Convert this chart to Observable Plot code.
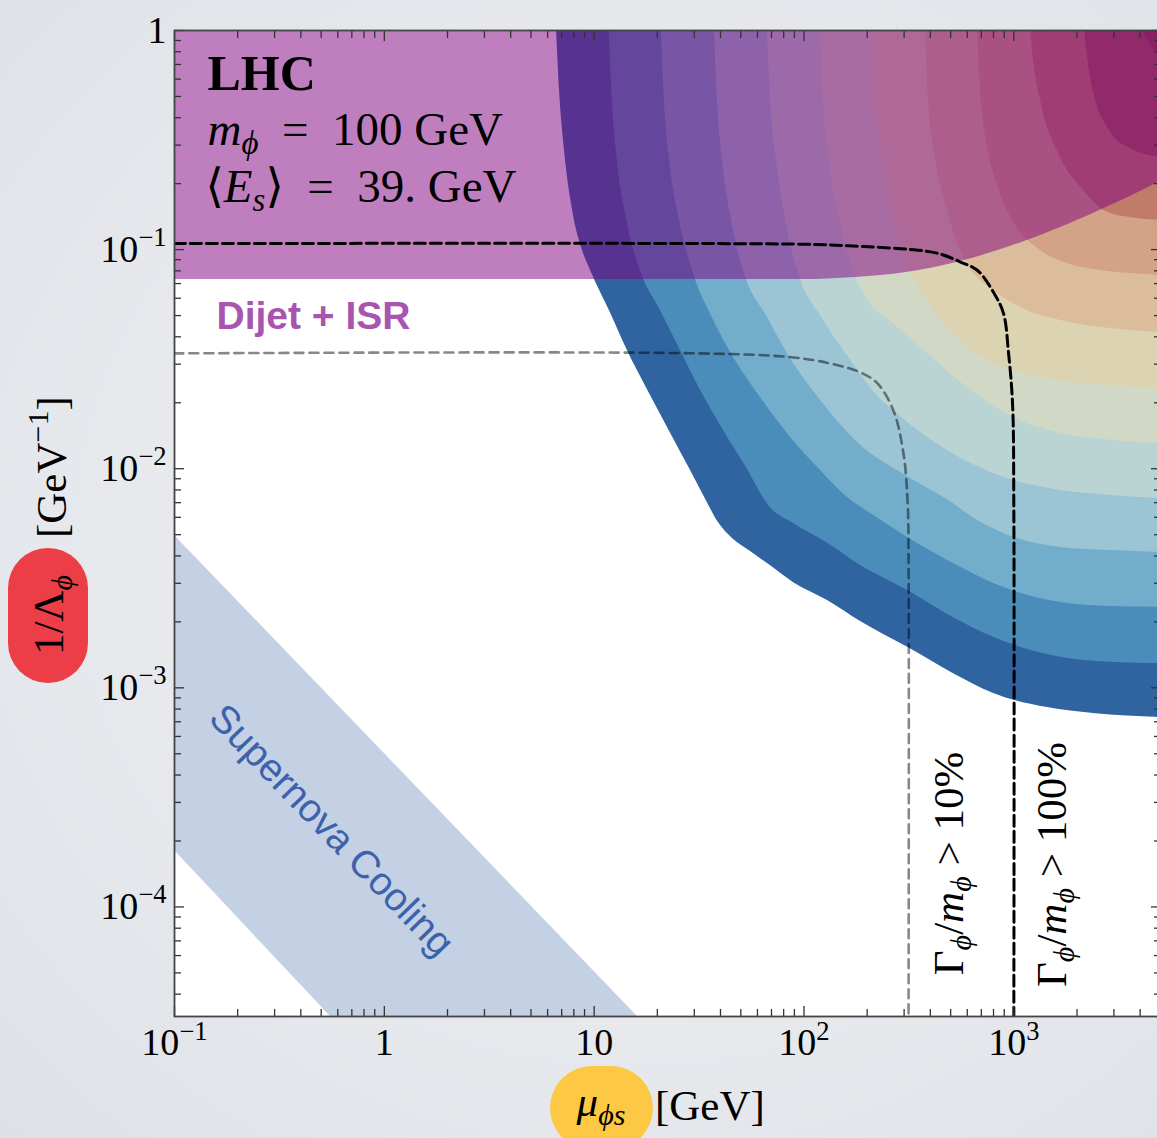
<!DOCTYPE html>
<html><head><meta charset="utf-8">
<script src="https://cdn.jsdelivr.net/npm/d3@7"></script>
<script src="https://cdn.jsdelivr.net/npm/@observablehq/plot@0.6"></script>
<style>
html,body{margin:0;padding:0;width:1157px;height:1138px;overflow:hidden;}
body{background: radial-gradient(ellipse 80% 75% at 55% 48%, #eff0f3 0%, #e7e9ed 55%, #dde1e6 100%);}
#chart{position:absolute;left:0;top:0;}
</style></head><body><div id="chart"></div>
<script>
// ---- axes ----
const xTicks = [0.1, 1, 10, 100, 1000];
const xTickLabels = ["10^{−1}", "1", "10", "10^{2}", "10^{3}"];
const yTicks = [1, 0.1, 0.01, 0.001, 0.0001];
const yTickLabels = ["1", "10^{−1}", "10^{−2}", "10^{−3}", "10^{−4}"];
const xDomain = [0.1, 5000];
const yDomain = [3.1623e-5, 1];

// ---- LHC reach contours (mu_phi_s [GeV], 1/Lambda_phi [GeV^-1]), outermost first ----
const contour0 = [[6.62,1],[6.84,0.532],[7.22,0.283],[7.89,0.151],[8.80,0.0991],[9.61,0.0803],[12.0,0.0511],[14.4,0.0346],[18.0,0.0228],[22.4,0.0154],[28.8,0.00981],[34.0,0.00724],[39.1,0.00568],[45.6,0.00480],[55.6,0.00419],[67.0,0.00369],[89.2,0.00302],[130,0.00250],[186,0.00201],[312,0.00153],[516,0.00116],[801,0.000942],[1447,0.000813],[2399,0.000763],[5000,0.000732]];
const contour1 = [[11.8,1],[12.2,0.479],[12.9,0.255],[14.3,0.136],[16.6,0.0803],[20.7,0.0528],[25.8,0.0346],[32.1,0.0228],[41.4,0.0149],[53.2,0.0101],[67.8,0.00679],[89.2,0.00562],[130,0.00456],[186,0.00362],[312,0.00278],[516,0.00209],[801,0.00170],[1670,0.00138],[2891,0.00131],[5000,0.00129]];
const contour2 = [[20.9,1],[21.6,0.479],[22.9,0.255],[25.5,0.136],[29.4,0.0803],[37.1,0.0475],[46.2,0.0322],[62.1,0.0211],[86.3,0.0139],[120,0.00981],[161,0.00739],[208,0.00625],[312,0.00486],[516,0.00369],[801,0.00299],[1670,0.00245],[2891,0.00235],[5000,0.00233]];
const contour3 = [[37.5,1],[38.7,0.479],[40.9,0.255],[45.2,0.136],[51.5,0.0803],[67.0,0.0490],[89.2,0.0302],[120,0.0205],[186,0.0128],[305,0.00931],[489,0.00716],[672,0.00580],[1000,0.00486],[1670,0.00437],[2891,0.00423],[5000,0.00415]];
const contour4 = [[67.0,1],[69.3,0.479],[74.0,0.255],[81.7,0.136],[93.2,0.0803],[124,0.0475],[167,0.0312],[219,0.0220],[267,0.0184],[388,0.0139],[622,0.0106],[1000,0.00884],[1670,0.00796],[2891,0.00755],[5000,0.00731]];
const contour5 = [[120,1],[124,0.479],[132,0.255],[148,0.136],[172,0.0803],[197,0.0605],[267,0.0460],[388,0.0336],[622,0.0228],[1000,0.0171],[1670,0.0145],[2891,0.0135],[5000,0.0130]];
const contour6 = [[212,1],[219,0.479],[237,0.255],[267,0.136],[322,0.0803],[414,0.0528],[557,0.0385],[801,0.0302],[1000,0.0281],[1670,0.0253],[2891,0.0240],[5000,0.0232]];
const contour7 = [[380,1],[392,0.479],[424,0.255],[483,0.151],[576,0.0911],[657,0.0762],[801,0.0651],[1076,0.0544],[1670,0.0475],[2891,0.0436],[5000,0.0418]];
const contour8 = [[672,1],[694,0.532],[741,0.315],[837,0.196],[1019,0.129],[1341,0.0991],[1864,0.0855],[2591,0.0803],[3600,0.0778],[5000,0.0762]];
const contour9 = [[1201,1],[1242,0.730],[1341,0.479],[1670,0.263],[2197,0.182],[2677,0.151],[3600,0.140],[5000,0.136]];
const contour10 = [[2174,1],[2346,0.573],[2922,0.339],[3600,0.289],[5000,0.263]];
const contour11 = [[4107,1],[4483,0.854],[5000,0.769]];
const bandColors = ["#2f64a0","#4a8dbb","#72adcb","#9bc4d5","#b9d4d2","#d1d8c6","#dcd3b2","#dcbd9b","#d4a286","#c07b6b","#a45254","#963f4c"];

// ---- Dijet + ISR excluded region: lower edge ----
const dijetEdge = [[0.1,0.073],[96.3,0.073],[176,0.0746],[308,0.0786],[557,0.0882],[1125,0.109],[1670,0.126],[2563,0.151],[3600,0.175],[5000,0.205]];

// ---- width contours ----
const width10 = [[0.1,0.0336],[32.1,0.0336],[89.2,0.0322],[134,0.0302],[186,0.0275],[224,0.0245],[267,0.0184],[298,0.0117],[312,0.00694],[315,0.00381],[315,3.16e-5]];
const width100 = [[0.1,0.1066],[32.1,0.1066],[115,0.1055],[192,0.1033],[322,0.1001],[438,0.0960],[564,0.0873],[672,0.0803],[801,0.0637],[893,0.0511],[944,0.0336],[986,0.0198],[1000,0.00645],[1000,3.16e-5]];

// ---- supernova cooling band edges ----
const snUpper = [[0.1, 4.96e-3], [16.1, 3.16e-5]];
const snLower = [[0.1, 1.81e-4], [0.554, 3.16e-5]];

// ---- labels ----
const notes = ["LHC", "$m$_{$ϕ$}\u2002=\u2002100 GeV", "⟨$E$_{$s$}⟩\u2002=\u200239. GeV"];
const widthLabels = ["Γ_{$ϕ$}/$m$_{$ϕ$} > 10%", "Γ_{$ϕ$}/$m$_{$ϕ$} > 100%"];

// ---------------------------------------------------------------
const contours = [contour0,contour1,contour2,contour3,contour4,contour5,contour6,contour7,contour8,contour9,contour10,contour11];
const snRows = snUpper.map((u, i) => ({ux: u[0], uy: u[1], lx: snLower[i][0], ly: snLower[i][1]}));
const xLabel = new Map(xTicks.map((v, i) => [v, xTickLabels[i]]));
const yLabel = new Map(yTicks.map((v, i) => [v, yTickLabels[i]]));
const xMinor = [], yMinor = [];
for (const e of [-1,0,1,2,3]) for (let m = 2; m <= 9; m++) { const v = +(m + "e" + e); if (v <= xDomain[1]) xMinor.push(v); }
for (const e of [-5,-4,-3,-2,-1]) for (let m = 2; m <= 9; m++) { const v = +(m + "e" + e); if (v >= yDomain[0] && v <= yDomain[1]) yMinor.push(v); }
const yTop = yDomain[1];
const X = d => d[0], Y = d => d[1];

const serif = "'Liberation Serif','DejaVu Serif',serif";
const sans = "'Liberation Sans',Arial,sans-serif";
const tk = {stroke: "#333", strokeWidth: 1.3, tickFormat: () => "", label: null};

const plot = Plot.plot({
  width: 1160, height: 1138,
  marginLeft: 174, marginTop: 30, marginRight: 0, marginBottom: 122,
  x: {type: "log", domain: xDomain},
  y: {type: "log", domain: yDomain},
  style: {background: "transparent", maxWidth: "none", overflow: "visible", fontFamily: serif},
  marks: [
    Plot.frame({fill: "white"}),
    Plot.area(snRows, {x1: "ux", y1: "uy", x2: "lx", y2: "ly", fill: "#c4d0e4", clip: true}),
    ...contours.map((c, k) => Plot.areaY(c, {x: X, y1: Y, y2: () => yTop, fill: bandColors[k], curve: "monotone-x", clip: true})),
    Plot.areaY(dijetEdge, {x: X, y1: Y, y2: () => yTop, fill: "#800080", fillOpacity: 0.5, curve: "monotone-x", clip: true}),
    Plot.line(width10, {x: X, y: Y, stroke: "black", strokeOpacity: 0.47, strokeWidth: 2.6, strokeDasharray: "9,6", curve: "catmull-rom", clip: true}),
    Plot.line(width100, {x: X, y: Y, stroke: "black", strokeWidth: 3, strokeDasharray: "11,5", curve: "catmull-rom", clip: true}),
    Plot.text([notes[0]], {text: d => d, frameAnchor: "top-left", dx: 33, dy: 59, textAnchor: "start", lineAnchor: "bottom", fontSize: 50, fontWeight: "bold", fill: "black"}),
    Plot.text([notes[1]], {text: d => d, frameAnchor: "top-left", dx: 33, dy: 114, textAnchor: "start", lineAnchor: "bottom", fontSize: 47, fill: "black"}),
    Plot.text([notes[2]], {text: d => d, frameAnchor: "top-left", dx: 31, dy: 171, textAnchor: "start", lineAnchor: "bottom", fontSize: 47, fill: "black"}),
    Plot.text(["Dijet + ISR"], {text: d => d, frameAnchor: "top-left", dx: 42, dy: 298, textAnchor: "start", lineAnchor: "bottom", fontSize: 39, fontWeight: "bold", fontFamily: sans, fill: "#a855b0"}),
    Plot.text(["Supernova Cooling"], {text: d => d, frameAnchor: "top-left", dx: 157, dy: 800, rotate: 46, textAnchor: "middle", lineAnchor: "middle", fontSize: 39, fontFamily: sans, fill: "#3b62aa"}),
    Plot.text([widthLabels[0]], {text: d => d, frameAnchor: "top-left", dx: 788, dy: 833, rotate: -90, textAnchor: "middle", lineAnchor: "bottom", fontSize: 43, fill: "black"}),
    Plot.text([widthLabels[1]], {text: d => d, frameAnchor: "top-left", dx: 891, dy: 834, rotate: -90, textAnchor: "middle", lineAnchor: "bottom", fontSize: 43, fill: "black"}),
    Plot.axisX(xTicks, {anchor: "bottom", tickSize: 10, dy: -10, ...tk}),
    Plot.axisX(xMinor, {anchor: "bottom", tickSize: 7, dy: -7, ...tk}),
    Plot.axisX(xTicks, {anchor: "top", tickSize: 10, dy: 10, ...tk}),
    Plot.axisX(xMinor, {anchor: "top", tickSize: 7, dy: 7, ...tk}),
    Plot.axisY(yTicks, {anchor: "left", tickSize: 10, dx: 10, ...tk}),
    Plot.axisY(yMinor, {anchor: "left", tickSize: 7, dx: 7, ...tk}),
    Plot.axisY(yTicks, {anchor: "right", tickSize: 10, dx: -10, ...tk}),
    Plot.axisY(yMinor, {anchor: "right", tickSize: 7, dx: -7, ...tk}),
    Plot.axisX(xTicks, {anchor: "bottom", tickSize: 0, tickPadding: 12, fontSize: 38, tickFormat: d => xLabel.get(d), label: null}),
    Plot.axisY(yTicks, {anchor: "left", tickSize: 0, tickPadding: 8, fontSize: 38, tickFormat: d => yLabel.get(d), label: null}),
    Plot.frame({stroke: "#444", strokeWidth: 1.8})
  ]
});
document.getElementById("chart").appendChild(plot);

// ---- axis titles with highlight pills ----
const svg = d3.select(plot);
const gx = svg.append("g").attr("font-family", serif).attr("text-anchor", "start");
gx.append("rect").attr("x", 550).attr("y", 1066).attr("width", 103).attr("height", 84).attr("rx", 42).attr("fill", "#fdc843");
gx.append("text").attr("x", 601).attr("y", 1116).attr("text-anchor", "middle").attr("font-size", 43).text("$μ$_{$ϕs$}");
gx.append("text").attr("x", 655).attr("y", 1120).attr("text-anchor", "start").attr("font-size", 43).text("[GeV]");
const gy = svg.append("g").attr("font-family", serif).attr("text-anchor", "start").attr("transform", "rotate(-90)");
gy.append("rect").attr("x", -683).attr("y", 8).attr("width", 135).attr("height", 80).attr("rx", 40).attr("fill", "#ec3e46");
gy.append("text").attr("x", -615).attr("y", 63).attr("text-anchor", "middle").attr("font-size", 43).text("1/Λ_{$ϕ$}");
gy.append("text").attr("x", -538).attr("y", 66).attr("text-anchor", "start").attr("font-size", 43).text("[GeV^{−1}]");

// ---- rich text: $..$ italic, _{..} subscript, ^{..} superscript ----
function parseRich(s) {
  const parts = []; let italic = false, mode = null, buf = "";
  const flush = () => { if (buf) parts.push({t: buf, i: italic, mode}); buf = ""; };
  for (let k = 0; k < s.length; k++) {
    const c = s[k];
    if (c === "$") { flush(); italic = !italic; }
    else if ((c === "_" || c === "^") && s[k + 1] === "{") { flush(); mode = c === "_" ? "sub" : "sup"; k++; }
    else if (c === "}" && mode) { flush(); mode = null; }
    else buf += c;
  }
  flush();
  return parts;
}
const NS = "http://www.w3.org/2000/svg";
plot.querySelectorAll("text").forEach(el => {
  const s = el.textContent;
  if (!/[$]|_\{|\^\{/.test(s)) return;
  const fs = parseFloat(getComputedStyle(el).fontSize) || 38;
  const parts = parseRich(s);
  while (el.firstChild) el.removeChild(el.firstChild);
  let shift = 0;
  for (const p of parts) {
    const ts = document.createElementNS(NS, "tspan");
    const target = p.mode === "sub" ? 0.2 * fs : p.mode === "sup" ? -0.42 * fs : 0;
    if (target !== shift) { ts.setAttribute("dy", (target - shift).toFixed(2)); shift = target; }
    if (p.mode) ts.setAttribute("font-size", (0.7 * fs).toFixed(1));
    if (p.i) ts.setAttribute("font-style", "italic");
    ts.textContent = p.t;
    el.appendChild(ts);
  }
});
</script>
</body></html>
